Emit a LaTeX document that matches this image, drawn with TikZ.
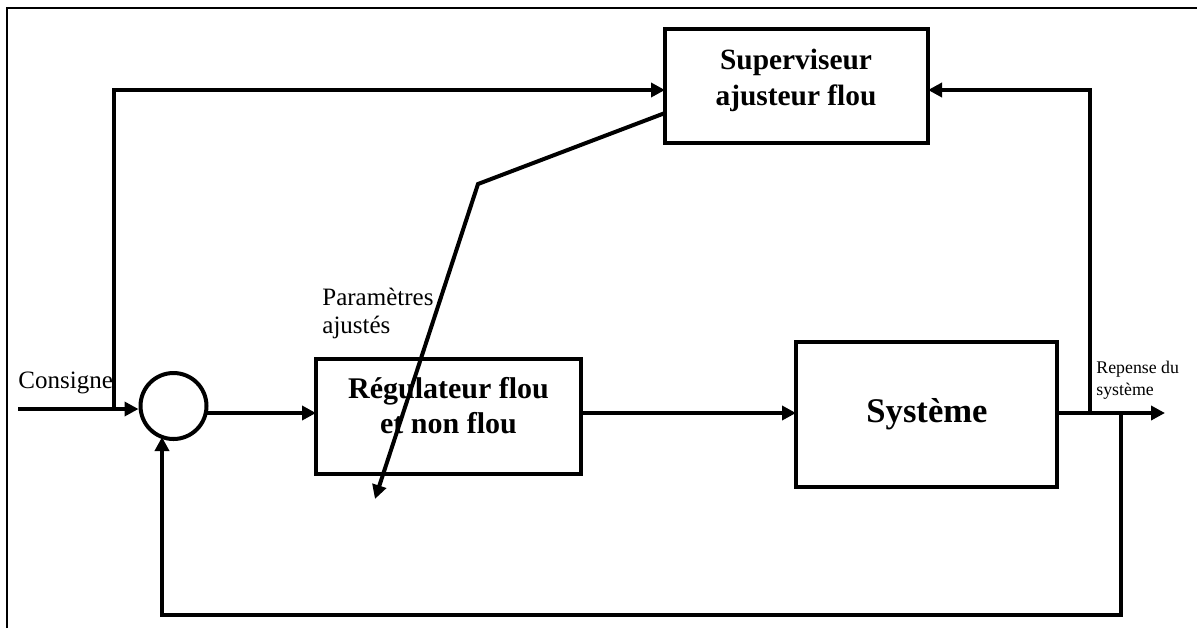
\documentclass[tikz,border=0pt]{standalone}
\usepackage{fontspec}
\setmainfont{Liberation Serif}
\usetikzlibrary{arrows.meta}
\begin{document}
\begin{tikzpicture}[x=0.5pt,y=-0.5pt,
  wire/.style={line width=2pt},
  arr/.style={wire,-{Triangle[length=7pt,width=7pt]}},
  blk/.style={draw,line width=2pt,inner sep=0pt,rectangle},
  sumnode/.style={draw,line width=2pt,circle,inner sep=0pt,minimum size=33pt},
  lbl/.style={anchor=base west,inner sep=0pt,font=\fontsize{12.5pt}{14.5pt}\selectfont},
  small/.style={anchor=base west,inner sep=0pt,font=\fontsize{8.9pt}{10pt}\selectfont},
  btxt/.style={anchor=base,inner sep=0pt,font=\fontsize{15pt}{18pt}\selectfont\bfseries}]
\useasboundingbox (0,0) rectangle (1197,628);
% frame
\draw[line width=1pt] (7,628) -- (7,8) -- (1197,8);

% blocks
\node[sumnode] (sum) at (173.5,406) {};
\node[blk,minimum width=132.5pt,minimum height=57.5pt] (reg) at (448.5,416.5) {};
\node[blk,minimum width=130.5pt,minimum height=72.5pt] (sys) at (926.5,414.5) {};
\node[blk,minimum width=131.5pt,minimum height=57pt] (sup) at (796.5,86) {};

% block texts
\node[btxt] (regA) at (448.5,398) {Régulateur flou};
\node[btxt] (regB) at (448.5,433) {et non flou};
\node[btxt,font=\fontsize{17.3pt}{20pt}\selectfont\bfseries] (sysT) at (927,422) {Système};
\node[btxt,font=\fontsize{14.7pt}{18pt}\selectfont\bfseries] (supA) at (796,69) {Superviseur};
\node[btxt,font=\fontsize{14.7pt}{18pt}\selectfont\bfseries] (supB) at (796,105) {ajusteur flou};

% labels
\node[lbl] (cons) at (18,388) {Consigne};
\node[lbl] (parA) at (322,305) {Paramètres};
\node[lbl] (parB) at (322,333) {ajustés};
\node[small] (repA) at (1096,373) {Repense du};
\node[small] (repB) at (1096,395) {système};

% connection points
\coordinate (cin) at (18,409);
\coordinate (j1) at (114,409);
\coordinate (top1) at (114,90);
\coordinate (supin) at (665,90);
\coordinate (sumout) at (206,413);
\coordinate (regin) at (316,413);
\coordinate (regout) at (581,413);
\coordinate (sysin) at (796,413);
\coordinate (sysout) at (1057,413);
\coordinate (yout) at (1165,413);
\coordinate (j2) at (1090,413);
\coordinate (top2) at (1090,90);
\coordinate (supback) at (928,90);
\coordinate (j3) at (1121,413);
\coordinate (fb1) at (1121,615);
\coordinate (fb2) at (162,615);
\coordinate (fbin) at (162,437);
\coordinate (supout) at (665,113);
\coordinate (bend) at (478,184);
\coordinate (tip) at (375,499);

% signal flow
\draw[arr] (cin) -- (cin -| sum.west);
\draw[arr] (j1) -- (top1) -- (supin);
\draw[arr] (sumout) -- (regin);
\draw[arr] (regout) -- (sysin);
\draw[arr] (sysout) -- (yout);
\draw[arr] (j2) -- (top2) -- (supback);
\draw[arr] (j3) -- (fb1) -- (fb2) -- (fbin);
\draw[arr,line join=miter] (supout) -- (bend) -- (tip);
\end{tikzpicture}
\end{document}
